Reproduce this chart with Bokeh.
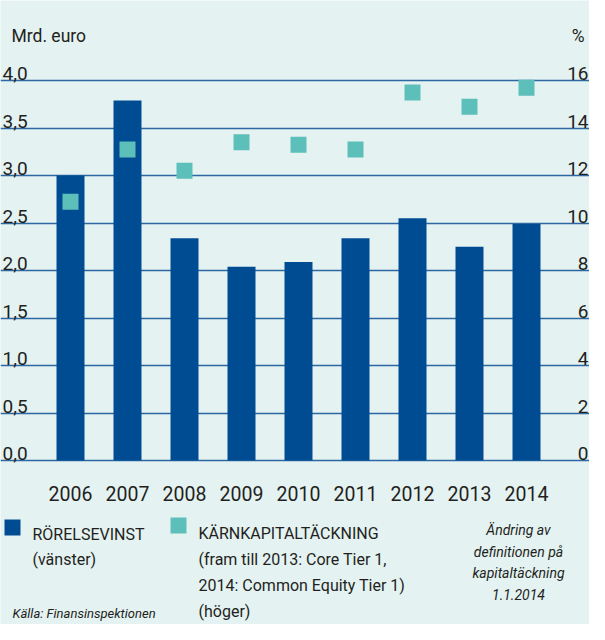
from bokeh.plotting import figure
from bokeh.models import Range1d, Grid, FixedTicker, ColumnDataSource
from bokeh.core.properties import value
from bokeh.embed import file_html
from bokeh.resources import INLINE

# ---- data ----
years = ["2006", "2007", "2008", "2009", "2010", "2011", "2012", "2013", "2014"]
rorelsevinst = [3.00, 3.79, 2.34, 2.04, 2.09, 2.34, 2.55, 2.25, 2.49]   # Mrd. euro (left)
karnkapital = [10.9, 13.1, 12.2, 13.4, 13.3, 13.1, 15.5, 14.9, 15.7]    # % (right)
left_ticks = [0.0, 0.5, 1.0, 1.5, 2.0, 2.5, 3.0, 3.5, 4.0]
left_labels = ["0,0", "0,5", "1,0", "1,5", "2,0", "2,5", "3,0", "3,5", "4,0"]
right_ticks = [0, 2, 4, 6, 8, 10, 12, 14, 16]
right_labels = ["0", "2", "4", "6", "8", "10", "12", "14", "16"]

# ---- layout ----
W, H = 589, 624
BG = "#E4F2F2"
DARK = "#004C93"
TEAL = "#5CBFBA"
GRID = "#2D68A2"
TXT = "#231F20"
FONT = "Roboto"

X0_PX = 70.0      # pixel of first category centre
STEP_PX = 57.0    # pixels per category
Y0_PX = 460.0     # pixel (from top) of value 0
PX_PER_UNIT = 95.0

x_start = -X0_PX / STEP_PX
x_end = (W - X0_PX) / STEP_PX
y_start = -(H - Y0_PX) / PX_PER_UNIT
y_end = Y0_PX / PX_PER_UNIT
pct_factor = 4.0

def px_x(px):
    return x_start + px / STEP_PX

def px_y(py):
    return y_end - py / PX_PER_UNIT

p = figure(width=W, height=H, output_backend="svg", toolbar_location=None,
           x_range=Range1d(x_start, x_end), y_range=Range1d(y_start, y_end),
           x_axis_location=None, y_axis_location=None, min_border=0)
p.extra_y_ranges = {"pct": Range1d(y_start * pct_factor, y_end * pct_factor)}
p.background_fill_color = BG
p.border_fill_color = BG
p.outline_line_color = None
p.grid.visible = False

grid = Grid(dimension=1, ticker=FixedTicker(ticks=left_ticks),
            grid_line_color=GRID, grid_line_width=1.3)
p.add_layout(grid)

idx = list(range(len(years)))
src = ColumnDataSource(dict(x=idx, year=years, bar=rorelsevinst, pct=karnkapital))

p.vbar(x="x", top="bar", bottom=0, width=28 / STEP_PX, source=src,
       fill_color=DARK, line_color=None)
p.scatter(x="x", y="pct", y_range_name="pct", source=src, marker="square",
          size=16, fill_color=TEAL, line_color=None)

# year labels
p.text(x="x", y=0, text="year", source=src, text_align="center",
       text_baseline="alphabetic", y_offset=33, text_font=value(FONT),
       text_font_size="19.5px", text_color=TXT)

# left tick labels
p.text(x=[px_x(2)] * len(left_ticks), y=left_ticks, text=left_labels,
       text_align="left", text_baseline="alphabetic", y_offset=-7,
       text_font=value(FONT), text_font_size="19px", text_color=TXT)
# right tick labels
p.text(x=[px_x(588)] * len(right_ticks), y=right_ticks, text=right_labels,
       y_range_name="pct", text_align="right", text_baseline="alphabetic",
       y_offset=-7, text_font=value(FONT), text_font_size="19px", text_color=TXT)

# axis unit titles
p.text(x=[px_x(11)], y=[px_y(35)], text=["Mrd. euro"], text_align="left",
       text_baseline="alphabetic", text_font=value(FONT), text_font_size="17.5px",
       text_color=TXT)
p.text(x=[px_x(584)], y=[px_y(35)], text=["%"], text_align="right",
       text_baseline="alphabetic", text_font=value(FONT), text_font_size="17.5px",
       text_color=TXT)

# legend
p.scatter(x=[px_x(12)], y=[px_y(527)], marker="square", size=16,
          fill_color=DARK, line_color=None)
p.scatter(x=[px_x(178)], y=[px_y(525)], marker="square", size=16,
          fill_color=TEAL, line_color=None)
leg1 = ["RÖRELSEVINST", "(vänster)"]
leg2 = ["KÄRNKAPITALTÄCKNING", "(fram till 2013: Core Tier 1,",
        "2014: Common Equity Tier 1)", "(höger)"]
p.text(x=[px_x(32)] * 2, y=[px_y(534), px_y(559)], text=leg1,
       text_align="left", text_baseline="alphabetic", text_font=value(FONT),
       text_font_size="16px", text_color=TXT)
p.text(x=[px_x(198)] * 4, y=[px_y(533), px_y(559), px_y(585), px_y(611)],
       text=leg2, text_align="left", text_baseline="alphabetic",
       text_font=value(FONT), text_font_size="16px", text_color=TXT)

note = ["Ändring av", "definitionen på", "kapitaltäckning", "1.1.2014"]
p.text(x=[px_x(518)] * 4, y=[px_y(529), px_y(551), px_y(572), px_y(594)],
       text=note, text_align="center", text_baseline="alphabetic",
       text_font=value(FONT), text_font_style="italic", text_font_size="14px",
       text_color=TXT)

p.text(x=[px_x(12)], y=[px_y(613)], text=["Källa: Finansinspektionen"],
       text_align="left", text_baseline="alphabetic", text_font=value(FONT),
       text_font_style="italic", text_font_size="13px", text_color=TXT)

open("out.html", "w").write(file_html(p, INLINE))
